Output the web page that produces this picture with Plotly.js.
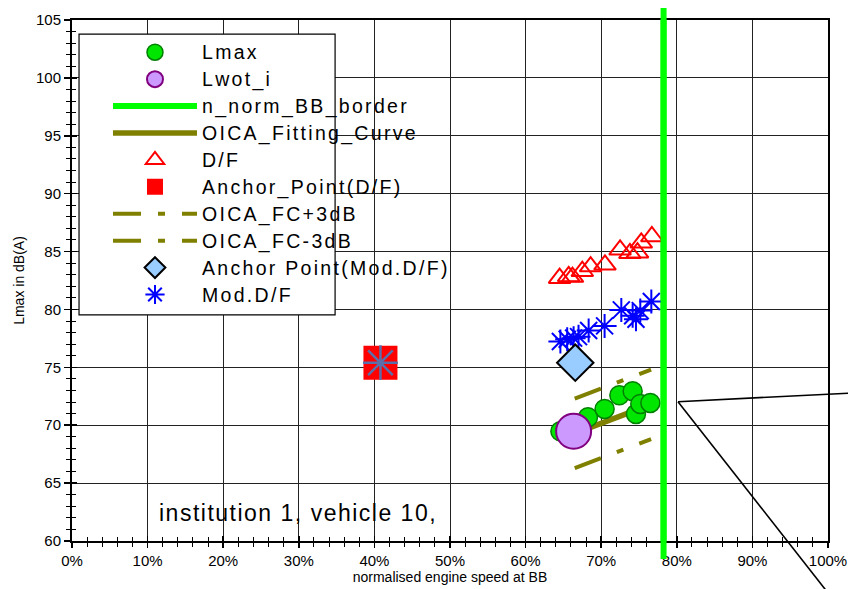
<!DOCTYPE html>
<html>
<head>
<meta charset="utf-8">
<script src="https://cdn.plot.ly/plotly-3.0.1.min.js"></script>
<style>
  html, body { margin: 0; padding: 0; background: #fff; }
  #chart { width: 848px; height: 589px; }
</style>
</head>
<body>
<div id="chart"></div>
<script>
// Measured points (x = normalised engine speed at BB, y = Lmax in dB(A))
const lmaxX = [0.646, 0.6825, 0.7045, 0.724, 0.7416, 0.746, 0.7517, 0.765];
const lmaxY = [69.48, 70.69, 71.41, 72.59, 72.94, 70.98, 71.84, 71.93];

const lwotX = [0.6635];
const lwotY = [69.48];

const nNormBB = 0.7825;            // n_norm_BB_border position
const borderY = [60, 105];

const fitX = [0.665, 0.766];       // OICA fitting curve end points
const fitY = [69.3, 71.8];
const fitPlus3Y = [72.3, 74.8];
const fitMinus3Y = [66.3, 68.8];

const dfX = [0.645, 0.657, 0.662, 0.675, 0.686, 0.705, 0.725, 0.738, 0.748, 0.753, 0.767];
const dfY = [82.7, 82.85, 82.8, 83.3, 83.7, 83.85, 85.15, 84.85, 84.9, 85.75, 86.3];

const anchorDfX = [0.408];
const anchorDfY = [75.4];

const modX = [0.646, 0.655, 0.6635, 0.670, 0.6834, 0.7045, 0.7266, 0.7416, 0.746, 0.7517, 0.7663];
const modY = [77.23, 77.43, 77.52, 77.65, 78.18, 78.58, 79.96, 79.45, 79.16, 79.9, 80.68];

const anchorModX = [0.6657];
const anchorModY = [75.4];

const FONT = "Liberation Sans, Arial, sans-serif";
const OLIVE = "#808000";
const sp = s => '<span style="font-size:19.5px;letter-spacing:2.3px">' + s + '</span>';

const traces = [
  { name: sp("n_norm_BB_border"), legendrank: 3, x: [nNormBB, nNormBB], y: borderY,
    mode: "lines", line: { color: "#00FF00", width: 6 }, type: "scatter" },
  { name: sp("OICA_FC+3dB"), legendrank: 7, x: fitX, y: fitPlus3Y, mode: "lines",
    line: { color: OLIVE, width: 4, dash: "28px,17px,7px,17px" }, type: "scatter" },
  { name: sp("OICA_FC-3dB"), legendrank: 8, x: fitX, y: fitMinus3Y, mode: "lines",
    line: { color: OLIVE, width: 4, dash: "28px,17px,7px,17px" }, type: "scatter" },
  { name: sp("OICA_Fitting_Curve"), legendrank: 4, x: fitX, y: fitY, mode: "lines",
    line: { color: OLIVE, width: 5.5 }, type: "scatter" },
  { name: sp("Lmax"), legendrank: 1, x: lmaxX, y: lmaxY, mode: "markers", type: "scatter",
    marker: { symbol: "circle", size: 19, color: "#00E600", line: { color: "#008000", width: 1.5 } } },
  { name: sp("Lwot_i"), legendrank: 2, x: lwotX, y: lwotY, mode: "markers", type: "scatter",
    marker: { symbol: "circle", size: 35, color: "#CC99FF", line: { color: "#800080", width: 2 } } },
  { name: sp("D/F"), legendrank: 5, x: dfX, y: dfY, mode: "markers", type: "scatter",
    marker: { symbol: "triangle-up-open", size: 19, color: "#FF0000", line: { color: "#FF0000", width: 2 } } },
  { name: sp("Anchor_Point(D/F)"), legendrank: 6, x: anchorDfX, y: anchorDfY, mode: "markers", type: "scatter",
    marker: { symbol: "square", size: 34, color: "#FF0000", line: { width: 0 } } },
  { name: "anchorDfStar", showlegend: false, x: anchorDfX, y: anchorDfY, mode: "markers", type: "scatter",
    marker: { symbol: "asterisk-open", size: 29, color: "#5A6EAA", line: { color: "#5A6EAA", width: 2.5 } } },
  { name: sp("Mod.D/F"), legendrank: 10, x: modX, y: modY, mode: "markers", type: "scatter",
    marker: { symbol: "asterisk-open", size: 20, color: "#0000FF", line: { color: "#0000FF", width: 2 } } },
  { name: sp("Anchor Point(Mod.D/F)"), legendrank: 9, x: anchorModX, y: anchorModY, mode: "markers", type: "scatter",
    marker: { symbol: "diamond", size: 28, color: "#99CCFF", line: { color: "#000000", width: 2 } } },
  // carrier for the inward half of the crossing tick marks
  { x: [], y: [], xaxis: "x2", yaxis: "y2", showlegend: false, type: "scatter", mode: "markers" }
];

const layout = {
  width: 848, height: 589,
  margin: { l: 72, r: 20, t: 20, b: 48 },
  paper_bgcolor: "#ffffff", plot_bgcolor: "#ffffff",
  font: { family: FONT, color: "#000" },
  showlegend: true,
  legend: {
    x: 0.0476, y: 0.9736, xanchor: "left", yanchor: "top",
    bgcolor: "rgba(0,0,0,0)", borderwidth: 0,
    font: { family: FONT, size: 18.4, color: "#000" },
    itemwidth: 84, traceorder: "normal", itemclick: false
  },
  xaxis: {
    range: [0, 1], tick0: 0, dtick: 0.1, tickformat: ".0%",
    ticks: "outside", ticklen: 5, tickwidth: 1.5, tickcolor: "#000",
    showline: true, linewidth: 2, linecolor: "#000", mirror: true,
    showgrid: true, gridcolor: "#222", gridwidth: 1, zeroline: false,
    minor: { dtick: 0.02, ticks: "outside", ticklen: 4, tickwidth: 1, tickcolor: "#000", showgrid: false },
    tickfont: { family: FONT, size: 15, color: "#000" },
    title: { text: "normalised engine speed at BB", font: { family: FONT, size: 14, color: "#000" }, standoff: 2 },
    fixedrange: true
  },
  yaxis: {
    range: [60, 105], tick0: 60, dtick: 5,
    ticks: "outside", ticklen: 6, tickwidth: 1.5, tickcolor: "#000",
    showline: true, linewidth: 2, linecolor: "#000", mirror: true,
    showgrid: true, gridcolor: "#222", gridwidth: 1, zeroline: false,
    minor: { dtick: 1, ticks: "outside", ticklen: 4, tickwidth: 1, tickcolor: "#000", showgrid: false },
    tickfont: { family: FONT, size: 15, color: "#000" },
    title: { text: "Lmax in dB(A)", font: { family: FONT, size: 14, color: "#000" }, standoff: 8 },
    fixedrange: true
  },
  xaxis2: {
    overlaying: "x", anchor: "y2", range: [0, 1], dtick: 0.1,
    ticks: "inside", ticklen: 5, tickwidth: 1.5, tickcolor: "#000",
    showticklabels: false, showgrid: false, showline: false, zeroline: false,
    minor: { dtick: 0.02, ticks: "inside", ticklen: 4, tickwidth: 1, tickcolor: "#000", showgrid: false },
    fixedrange: true
  },
  yaxis2: {
    overlaying: "y", anchor: "x2", side: "left", range: [60, 105], dtick: 5,
    ticks: "inside", ticklen: 5, tickwidth: 1.5, tickcolor: "#000",
    showticklabels: false, showgrid: false, showline: false, zeroline: false,
    minor: { dtick: 1, ticks: "inside", ticklen: 4, tickwidth: 1, tickcolor: "#000", showgrid: false },
    fixedrange: true
  },
  shapes: [
    // legend frame (narrower than its labels)
    { type: "rect", xref: "paper", yref: "paper", x0: 0.0093, x1: 0.348, y0: 0.434, y1: 0.973,
      fillcolor: "#ffffff", line: { color: "#000", width: 1.2 }, layer: "above" },
    // the border line runs past the plot frame at both ends
    { type: "line", xref: "x", yref: "paper", x0: nNormBB, x1: nNormBB, y0: -0.0345, y1: 1.023,
      line: { color: "#00FF00", width: 6 }, layer: "above" },
    // callout leader lines
    { type: "line", xref: "paper", yref: "paper", x0: 0.8016, y0: 0.2674, x1: 1.0423, y1: 0.2847,
      line: { color: "#000", width: 1.6 }, layer: "above" },
    { type: "line", xref: "paper", yref: "paper", x0: 0.8016, y0: 0.2674, x1: 1.0056, y1: -0.11,
      line: { color: "#000", width: 1.6 }, layer: "above" }
  ],
  annotations: [
    { xref: "paper", yref: "paper", x: 0.1124, y: 0.054, xanchor: "left", yanchor: "middle",
      showarrow: false, text: '<span style="letter-spacing:1.5px">institution 1, vehicle 10,</span>',
      font: { family: FONT, size: 23, color: "#000" } }
  ]
};

Plotly.newPlot("chart", traces, layout, { staticPlot: true, displayModeBar: false });
</script>
</body>
</html>
